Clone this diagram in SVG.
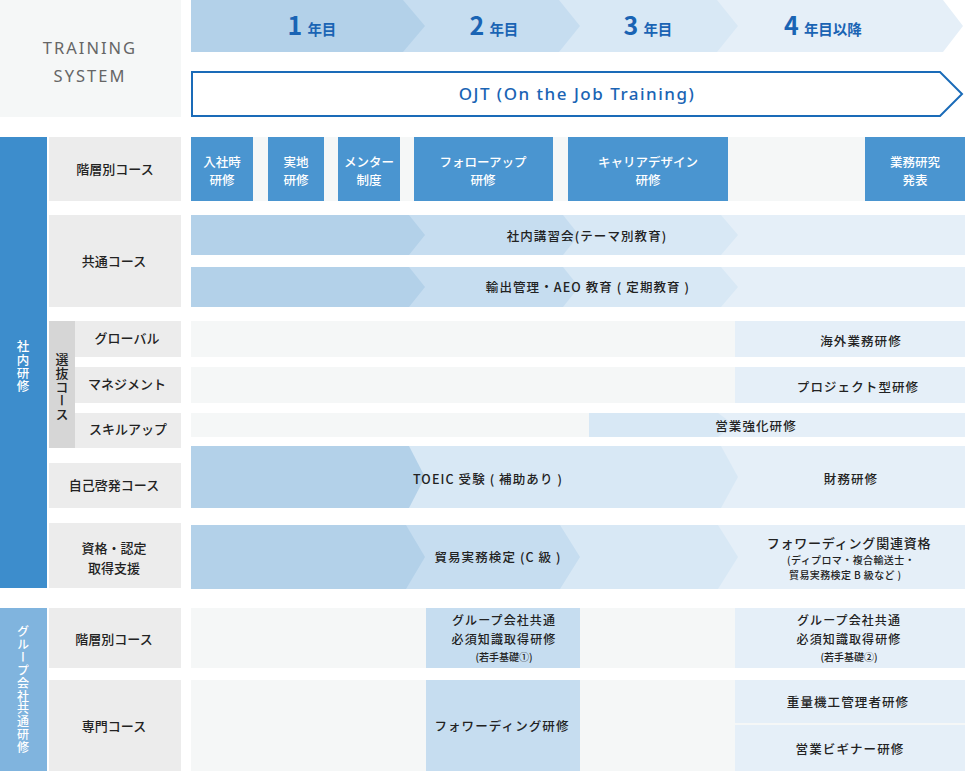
<svg xmlns="http://www.w3.org/2000/svg" width="965" height="771" viewBox="0 0 965 771">
<style>
text{font-family:"Noto Sans CJK JP","Noto Sans",sans-serif;}
.lbl{font-size:13px;font-weight:500;fill:#222;text-anchor:middle;}
.t{font-size:12.5px;font-weight:500;fill:#222;text-anchor:middle;letter-spacing:1.1px;}
.s{font-size:10px;font-weight:500;fill:#222;}
.w{font-size:12.5px;font-weight:500;fill:#fff;text-anchor:middle;}
.yr{fill:#1a64b4;font-weight:700;text-anchor:middle;}
.vt{font-weight:500;text-anchor:middle;writing-mode:vertical-rl;}
.b1{fill:#b3d1e9}.b2{fill:#c6ddf0}.b3{fill:#d8e8f5}.b4{fill:#e5eff8}
.bg{fill:#f5f7f7}.lb{fill:#ececec}.bx{fill:#4a95d0}
</style>

<g id="header">
  <rect x="0" y="0" width="181" height="117" class="bg"/>
  <text x="90" y="54" text-anchor="middle" style="font-family:'Noto Sans',sans-serif;font-size:16.5px;fill:#666;letter-spacing:2px">TRAINING</text>
  <text x="90" y="82" text-anchor="middle" style="font-family:'Noto Sans',sans-serif;font-size:16.5px;fill:#666;letter-spacing:2px">SYSTEM</text>
</g>

<g id="years">
  <polygon class="b4" points="191,0 943,0 963,26 943,52 191,52"/>
  <polygon class="b3" points="191,0 717,0 738,26 717,52 191,52"/>
  <polygon class="b2" points="191,0 559,0 580,26 559,52 191,52"/>
  <polygon class="b1" points="191,0 403,0 425,26 403,52 191,52"/>
  <text class="yr" x="312" y="35"><tspan font-size="25">1</tspan><tspan font-size="14.5" dx="5">年目</tspan></text>
  <text class="yr" x="494" y="35"><tspan font-size="25">2</tspan><tspan font-size="14.5" dx="5">年目</tspan></text>
  <text class="yr" x="648" y="35"><tspan font-size="25">3</tspan><tspan font-size="14.5" dx="5">年目</tspan></text>
  <text class="yr" x="823" y="35"><tspan font-size="25">4</tspan><tspan font-size="14.5" dx="5">年目以降</tspan></text>
</g>

<g id="ojt">
  <polygon points="192,72 940,72 962,94 940,116 192,116" fill="#fff" stroke="#1a6bb8" stroke-width="2"/>
  <text x="577" y="100" text-anchor="middle" style="font-family:'Noto Sans',sans-serif;font-size:17px;font-weight:500;fill:#1a64b4;letter-spacing:1.5px">OJT (On the Job Training)</text>
</g>

<g id="sidebar-internal">
  <rect x="0" y="137" width="47" height="451" fill="#3d8dcc"/>
  <text class="vt" x="23" y="367" style="font-size:12.5px;fill:#fff;letter-spacing:0.8px">社内研修</text>
</g>

<g id="row-kaisou">
  <rect x="49" y="137" width="132" height="64" class="lb"/>
  <text class="lbl" x="115" y="174">階層別コース</text>
  <rect x="191" y="137" width="774" height="64" class="bg"/>
  <rect x="191" y="137" width="62" height="64" class="bx"/>
  <text class="w" x="222" y="167">入社時</text><text class="w" x="222" y="185">研修</text>
  <rect x="268" y="137" width="56" height="64" class="bx"/>
  <text class="w" x="296" y="167">実地</text><text class="w" x="296" y="185">研修</text>
  <rect x="338" y="137" width="62" height="64" class="bx"/>
  <text class="w" x="369" y="167">メンター</text><text class="w" x="369" y="185">制度</text>
  <rect x="414" y="137" width="139" height="64" class="bx"/>
  <text class="w" x="483" y="167">フォローアップ</text><text class="w" x="483" y="185">研修</text>
  <rect x="568" y="137" width="160" height="64" class="bx"/>
  <text class="w" x="648" y="167">キャリアデザイン</text><text class="w" x="648" y="185">研修</text>
  <rect x="865" y="137" width="100" height="64" class="bx"/>
  <text class="w" x="915" y="167">業務研究</text><text class="w" x="915" y="185">発表</text>
</g>

<g id="row-kyoutsu">
  <rect x="49" y="215" width="132" height="92" class="lb"/>
  <text class="lbl" x="114" y="266">共通コース</text>
  <rect x="191" y="215" width="774" height="40" class="b4"/>
  <polygon class="b3" points="191,215 721,215 738,235 721,255 191,255"/>
  <polygon class="b2" points="191,215 563,215 579,235 563,255 191,255"/>
  <polygon class="b1" points="191,215 409,215 425,235 409,255 191,255"/>
  <text class="t" x="587" y="241">社内講習会(テーマ別教育)</text>
  <rect x="191" y="267" width="774" height="40" class="b4"/>
  <polygon class="b3" points="191,267 721,267 738,287 721,307 191,307"/>
  <polygon class="b2" points="191,267 563,267 579,287 563,307 191,307"/>
  <polygon class="b1" points="191,267 409,267 425,287 409,307 191,307"/>
  <text class="t" x="588" y="292">輸出管理・AEO 教育 ( 定期教育 )</text>
</g>

<g id="row-senbatsu">
  <rect x="49" y="321" width="26" height="127" fill="#d6d6d6"/>
  <text class="vt" x="62" y="387" style="font-size:13px;fill:#222;letter-spacing:0.6px">選抜コース</text>
  <rect x="75" y="321" width="106" height="36" class="lb"/>
  <text class="lbl" x="127" y="343">グローバル</text>
  <rect x="75" y="367" width="106" height="36" class="lb"/>
  <text class="lbl" x="127" y="389">マネジメント</text>
  <rect x="75" y="413" width="106" height="35" class="lb"/>
  <text class="lbl" x="128" y="434">スキルアップ</text>
  <rect x="191" y="321" width="774" height="36" class="bg"/>
  <rect x="735" y="321" width="230" height="36" class="b4"/>
  <text class="t" x="861" y="346">海外業務研修</text>
  <rect x="191" y="367" width="774" height="36" class="bg"/>
  <rect x="735" y="367" width="230" height="36" class="b4"/>
  <text class="t" x="858" y="392">プロジェクト型研修</text>
  <rect x="191" y="413" width="774" height="24" class="bg"/>
  <rect x="589" y="413" width="376" height="24" class="b4"/>
  <polygon class="b3" points="589,413 718,413 734,425 718,437 589,437"/>
  <text class="t" x="756" y="431">営業強化研修</text>
</g>

<g id="row-jikokeihatsu">
  <rect x="49" y="463" width="132" height="45" class="lb"/>
  <text class="lbl" x="114" y="490">自己啓発コース</text>
  <rect x="191" y="446" width="774" height="62" class="b4"/>
  <polygon class="b3" points="191,446 721,446 738,477 721,508 191,508"/>
  <polygon class="b1" points="191,446 409,446 425,477 409,508 191,508"/>
  <text class="t" x="488" y="484">TOEIC 受験 ( 補助あり )</text>
  <text class="t" x="851" y="484">財務研修</text>
</g>

<g id="row-shikaku">
  <rect x="49" y="523" width="132" height="65" class="lb"/>
  <text class="lbl" x="114" y="553">資格・認定</text>
  <text class="lbl" x="114" y="573">取得支援</text>
  <rect x="191" y="525" width="774" height="64" class="b4"/>
  <polygon class="b3" points="191,525 718,525 738,557 718,589 191,589"/>
  <polygon class="b2" points="191,525 560,525 580,557 560,589 191,589"/>
  <polygon class="b1" points="191,525 406,525 425,557 406,589 191,589"/>
  <text class="t" x="498" y="562">貿易実務検定 (C 級 )</text>
  <text class="t" x="849" y="548" style="font-size:13px;letter-spacing:0.8px">フォワーディング関連資格</text>
  <text class="s" x="787" y="563.5" style="letter-spacing:0.4px">(ディプロマ・複合輸送士・</text>
  <text class="s" x="789" y="578.5" style="letter-spacing:0.4px">貿易実務検定 B 級など )</text>
</g>

<g id="sidebar-group">
  <rect x="0" y="608" width="47" height="163" fill="#80b4de"/>
  <text class="vt" x="23" y="690" style="font-size:12px;fill:#fff;letter-spacing:0.9px">グループ会社共通研修</text>
</g>

<g id="row-group-kaisou">
  <rect x="49" y="608" width="132" height="60" class="lb"/>
  <text class="lbl" x="114" y="644">階層別コース</text>
  <rect x="191" y="608" width="774" height="60" class="bg"/>
  <rect x="426" y="608" width="154" height="60" class="b2"/>
  <text class="t" x="504" y="625" style="font-size:12px">グループ会社共通</text>
  <text class="t" x="504" y="644" style="font-size:12px">必須知識取得研修</text>
  <text class="s" x="504" y="661" text-anchor="middle">(若手基礎①)</text>
  <rect x="735" y="608" width="230" height="60" class="b4"/>
  <text class="t" x="849" y="625" style="font-size:12px">グループ会社共通</text>
  <text class="t" x="849" y="644" style="font-size:12px">必須知識取得研修</text>
  <text class="s" x="849" y="661" text-anchor="middle">(若手基礎②)</text>
</g>

<g id="row-senmon">
  <rect x="49" y="680" width="132" height="91" class="lb"/>
  <text class="lbl" x="114" y="731">専門コース</text>
  <rect x="191" y="680" width="774" height="91" class="bg"/>
  <rect x="426" y="680" width="154" height="91" class="b2"/>
  <text class="t" x="502" y="731">フォワーディング研修</text>
  <rect x="735" y="680" width="230" height="43" class="b4"/>
  <text class="t" x="848" y="707">重量機工管理者研修</text>
  <rect x="735" y="725" width="230" height="46" class="b4"/>
  <text class="t" x="850" y="754">営業ビギナー研修</text>
</g>

<g id="connectors"/>
</svg>
